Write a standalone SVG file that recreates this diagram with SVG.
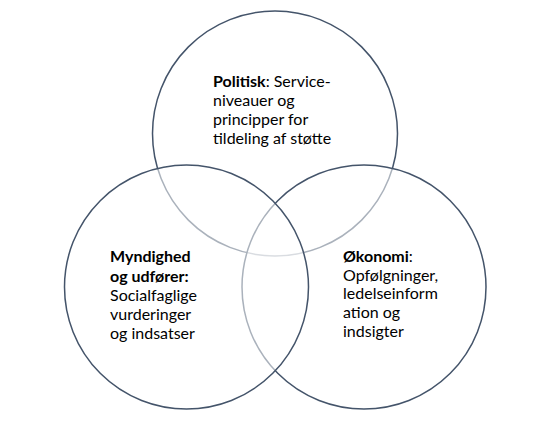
<svg xmlns="http://www.w3.org/2000/svg" width="551" height="422" viewBox="0 0 551 422">
<style>
.c{fill:#ffffff;fill-opacity:0.55;stroke:#44546A;stroke-width:1.5}
.t{font-family:Lato,"Liberation Sans",sans-serif;font-size:16px;fill:#000000}
.b{font-weight:bold}
</style>
<rect width="551" height="422" fill="#ffffff"/>
<g id="politisk">
<circle class="c" cx="275" cy="133.5" r="122.5"/>
</g>
<g id="okonomi">
<circle class="c" cx="364" cy="287" r="122"/>
</g>
<g id="myndighed">
<circle class="c" cx="186.5" cy="287" r="122"/>
</g>
<g id="connectors"></g>
<g id="labels">
<text class="t" x="213" y="87"><tspan class="b">Politisk</tspan>: Service-</text>
<text class="t" x="213" y="106">niveauer og</text>
<text class="t" x="213" y="125">principper for</text>
<text class="t" x="213" y="144">tildeling af støtte</text>
<text class="t b" x="110" y="262">Myndighed</text>
<text class="t b" x="110" y="282">og udfører:</text>
<text class="t" x="110" y="301">Socialfaglige</text>
<text class="t" x="110" y="320">vurderinger</text>
<text class="t" x="110" y="339">og indsatser</text>
<text class="t" x="343" y="262"><tspan class="b">Økonomi</tspan>:</text>
<text class="t" x="343" y="281">Opfølgninger,</text>
<text class="t" x="343" y="299">ledelseinform</text>
<text class="t" x="343" y="318">ation og</text>
<text class="t" x="343" y="337">indsigter</text>
</g>
</svg>
